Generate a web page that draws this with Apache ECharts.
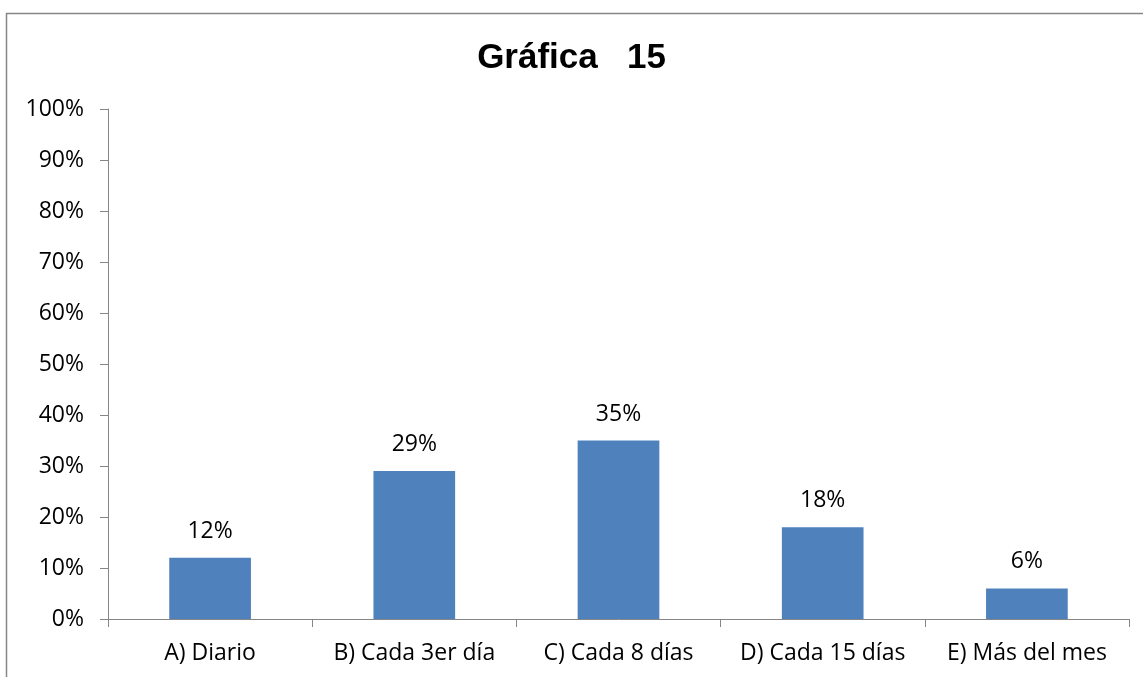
<!DOCTYPE html>
<html>
<head>
<meta charset="utf-8">
<script src="https://cdn.jsdelivr.net/npm/echarts@6/dist/echarts.min.js"></script>
<style>
  html, body { margin: 0; padding: 0; background: #fff; }
  #grafica { width: 1143px; height: 677px; }
</style>
</head>
<body>
<div id="grafica"></div>
<script>
// Datos de la gráfica
var categorias = ['A) Diario', 'B) Cada 3er día', 'C) Cada 8 días', 'D) Cada 15 días', 'E) Más del mes'];
var porcentajes = [12, 29, 35, 18, 6];
var titulo = 'Gráfica   15';

var chart = echarts.init(document.getElementById('grafica'));

var fuente = '"Open Sans", "Noto Sans", sans-serif';

var option = {
  backgroundColor: '#ffffff',
  animation: false,
  // marco gris de la gráfica
  graphic: [
    {
      type: 'rect',
      shape: { x: 6.5, y: 13.5, width: 1160, height: 700 },
      style: { fill: 'none', stroke: '#868686', lineWidth: 1.5 },
      silent: true
    }
  ],
  title: {
    text: titulo,
    left: 'center',
    top: 36,
    textStyle: {
      fontFamily: 'Liberation Sans, Arial, sans-serif',
      fontWeight: 'bold',
      fontSize: 35,
      color: '#000'
    }
  },
  grid: {
    left: 108,
    right: 14,
    top: 109,
    bottom: 58
  },
  xAxis: {
    type: 'category',
    data: categorias,
    axisLine: { lineStyle: { color: '#868686', width: 1 } },
    axisTick: { show: true, alignWithLabel: false, length: 8, lineStyle: { color: '#868686' } },
    axisLabel: {
      color: '#000',
      fontFamily: fuente,
      fontSize: 23,
      margin: 23,
      interval: 0
    },
    splitLine: { show: false }
  },
  yAxis: {
    type: 'value',
    min: 0,
    max: 100,
    interval: 10,
    axisLine: { show: true, lineStyle: { color: '#868686', width: 1 } },
    axisTick: { show: true, length: 8, lineStyle: { color: '#868686' } },
    axisLabel: {
      color: '#000',
      fontFamily: fuente,
      fontSize: 23,
      margin: 24,
      formatter: '{value}%'
    },
    splitLine: { show: false }
  },
  series: [
    {
      type: 'bar',
      data: porcentajes,
      barWidth: '40%',
      itemStyle: { color: '#4F81BD' },
      label: {
        show: true,
        position: 'top',
        distance: 15,
        formatter: '{c}%',
        color: '#000',
        fontFamily: fuente,
        fontSize: 23
      }
    }
  ]
};

chart.setOption(option);
</script>
</body>
</html>
